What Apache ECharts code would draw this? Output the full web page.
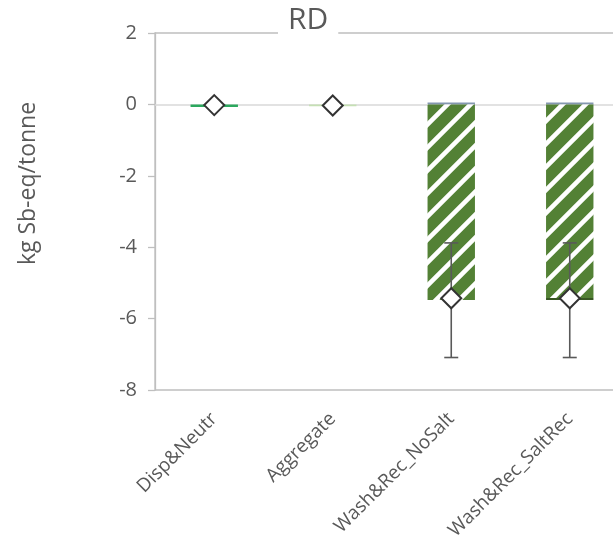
<!DOCTYPE html>
<html>
<head>
<meta charset="utf-8">
<script src="https://cdn.jsdelivr.net/npm/echarts@6/dist/echarts.min.js"></script>
<style>
  html, body { margin: 0; padding: 0; background: #fff; }
  #chart { width: 613px; height: 551px; }
</style>
</head>
<body>
<div id="chart"></div>
<script>
// Scenario categories
const categories = ['Disp&Neutr', 'Aggregate', 'Wash&Rec_NoSalt', 'Wash&Rec_SaltRec'];

// Contributions (kg Sb-eq/tonne)
const burdens     = [0, 0, 0.05, 0.05];
const disposal    = [-0.07, 0, 0, 0];
const aggregate   = [0, -0.05, 0, 0];
const credits     = [0, 0, -5.48, -5.42];
const otherCredit = [0, 0, 0, -0.06];

// Net result and its uncertainty range
const netValues = [-0.02, -0.03, -5.43, -5.43];
const errLow    = [null, null, -7.09, -7.09];
const errHigh   = [null, null, -3.88, -3.88];

// Axis ticks
const yMin = -8, yMax = 2, yStep = 2;

const FONT = 'Open Sans';
const TEXT = '#595959';

// Diagonal hatch tile for the credit bars
function hatchTile() {
  const s = 23;
  const c = document.createElement('canvas');
  c.width = s; c.height = s;
  const g = c.getContext('2d');
  g.fillStyle = '#538135';
  g.fillRect(0, 0, s, s);
  g.strokeStyle = '#ffffff';
  g.lineWidth = 4.6;
  g.beginPath();
  for (let k = -2; k <= 2; k++) {
    g.moveTo(k * s - s, 2 * s);
    g.lineTo(k * s + 2 * s, -s);
  }
  g.stroke();
  return c;
}

const chart = echarts.init(document.getElementById('chart'), null, { renderer: 'canvas' });

const barBase = { type: 'bar', stack: 'total', barWidth: '40%', silent: true, z: 3 };

chart.setOption({
  animation: false,
  title: {
    text: 'RD',
    left: 278,
    top: 3,
    padding: [2, 10, 6, 10],
    backgroundColor: '#ffffff',
    textStyle: { fontFamily: FONT, fontSize: 30, fontWeight: 'normal', color: TEXT }
  },
  grid: {
    left: 155, width: 474, top: 33, bottom: 161,
    outerBoundsMode: 'none',
    show: true, borderColor: '#bfbfbf', borderWidth: 1.3, backgroundColor: 'transparent'
  },
  xAxis: {
    type: 'category',
    data: categories,
    position: 'bottom',
    axisLine: { show: false, onZero: false },
    axisTick: { show: false },
    axisLabel: {
      rotate: 45, margin: 26, fontFamily: FONT, fontSize: 19, color: TEXT, interval: 0
    }
  },
  yAxis: {
    type: 'value',
    min: yMin, max: yMax, interval: yStep,
    name: 'kg Sb-eq/tonne',
    nameLocation: 'middle',
    nameGap: 115,
    nameRotate: 90,
    nameTextStyle: { fontFamily: FONT, fontSize: 23, color: TEXT, padding: [0, 0, 0, 56] },
    axisLine: { show: true, lineStyle: { color: '#bfbfbf', width: 1.3 } },
    axisTick: { show: true, length: 7, lineStyle: { color: '#bfbfbf', width: 1.3 } },
    axisLabel: { fontFamily: FONT, fontSize: 20, color: TEXT, margin: 18 },
    splitLine: { show: false }
  },
  series: [
    {
      name: 'Zero',
      type: 'line',
      data: [],
      silent: true,
      z: 1,
      markLine: {
        silent: true, symbol: 'none', label: { show: false }, z: 1,
        lineStyle: { color: '#d9d9d9', width: 1.5, type: 'solid' },
        data: [{ yAxis: 0 }]
      }
    },
    Object.assign({}, barBase, { name: 'Burdens', data: burdens, itemStyle: { color: '#8497b0' } }),
    Object.assign({}, barBase, { name: 'Disposal', data: disposal, itemStyle: { color: '#2ca85e' } }),
    Object.assign({}, barBase, { name: 'Aggregate', data: aggregate, itemStyle: { color: '#c5e0b4' } }),
    Object.assign({}, barBase, {
      name: 'Credits', data: credits,
      itemStyle: { color: { image: hatchTile(), repeat: 'repeat' } }
    }),
    Object.assign({}, barBase, { name: 'Other', data: otherCredit, itemStyle: { color: '#385723' } }),
    {
      name: 'Range',
      type: 'custom',
      silent: true,
      data: categories.map((c, i) => [i, errLow[i], errHigh[i]]),
      renderItem: function (params, api) {
        const lo = api.value(1), hi = api.value(2);
        if (lo == null || hi == null || isNaN(lo) || isNaN(hi)) return null;
        const i = api.value(0);
        const pLo = api.coord([i, lo]);
        const pHi = api.coord([i, hi]);
        const cap = 7;
        const style = { stroke: '#595959', lineWidth: 1.6 };
        return {
          type: 'group',
          children: [
            { type: 'line', shape: { x1: pLo[0], y1: pLo[1], x2: pHi[0], y2: pHi[1] }, style },
            { type: 'line', shape: { x1: pLo[0] - cap, y1: pLo[1], x2: pLo[0] + cap, y2: pLo[1] }, style },
            { type: 'line', shape: { x1: pHi[0] - cap, y1: pHi[1], x2: pHi[0] + cap, y2: pHi[1] }, style }
          ]
        };
      },
      z: 5
    },
    {
      name: 'Net',
      type: 'scatter',
      silent: true,
      data: netValues,
      symbol: 'diamond',
      symbolSize: [20, 20],
      itemStyle: { color: '#ffffff', borderColor: '#333333', borderWidth: 2, opacity: 1 },
      z: 6
    }
  ]
});
</script>
</body>
</html>
